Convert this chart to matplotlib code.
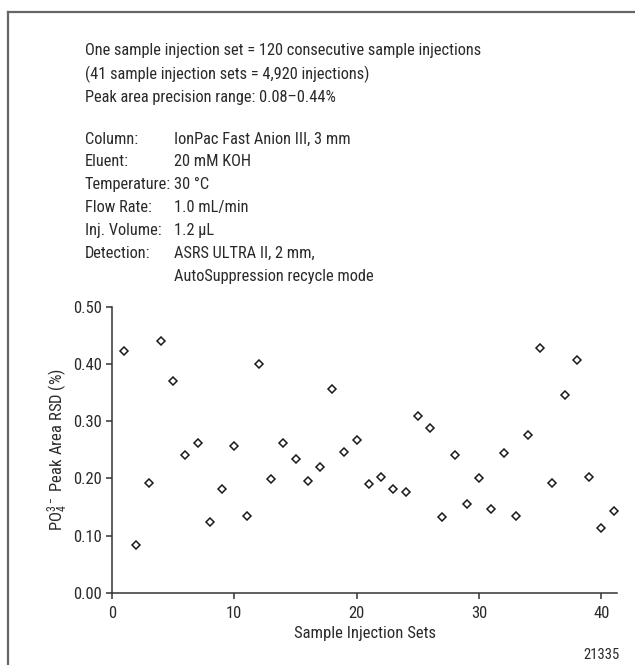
import matplotlib
matplotlib.use("Agg")
import matplotlib.pyplot as plt
from matplotlib.lines import Line2D

plt.rcParams['font.family'] = ['Roboto Condensed', 'Archivo Narrow', 'PT Sans Narrow',
                               'Liberation Sans', 'DejaVu Sans']
plt.rcParams['mathtext.default'] = 'regular'

sets = list(range(1, 42))
rsd = [0.423, 0.083, 0.192, 0.440, 0.371, 0.241, 0.262, 0.123, 0.182, 0.257,
       0.135, 0.401, 0.199, 0.262, 0.234, 0.195, 0.220, 0.356, 0.246, 0.267,
       0.190, 0.202, 0.182, 0.177, 0.310, 0.289, 0.132, 0.241, 0.155, 0.200,
       0.147, 0.244, 0.135, 0.276, 0.428, 0.192, 0.346, 0.408, 0.202, 0.113,
       0.143]
xticks = [0, 10, 20, 30, 40]
yticks = [0.0, 0.1, 0.2, 0.3, 0.4, 0.5]
ytick_labels = ["0.00", "0.10", "0.20", "0.30", "0.40", "0.50"]

header_lines = [
    "One sample injection set = 120 consecutive sample injections",
    "(41 sample injection sets = 4,920 injections)",
    "Peak area precision range: 0.08\u20130.44%",
]
cond_labels = ["Column:", "Eluent:", "Temperature:", "Flow Rate:", "Inj. Volume:", "Detection:", ""]
cond_values = ["IonPac Fast Anion III, 3 mm", "20 mM KOH", "30 \u00b0C", "1.0 mL/min",
               "1.2 \u03bcL", "ASRS ULTRA II, 2 mm,", "AutoSuppression recycle mode"]

W, H = 635, 665
fig = plt.figure(figsize=(W / 100, H / 100), dpi=100)
fs = 11.8
tc = "#2a2a2a"

# frame lines
fig.add_artist(Line2D([8 / W, 8 / W], [0, 1 - 12 / H], color="#666666", lw=1.6, transform=fig.transFigure))
fig.add_artist(Line2D([8 / W, 1], [1 - 12 / H, 1 - 12 / H], color="#666666", lw=1.6, transform=fig.transFigure))

# header text
for i, t in enumerate(header_lines):
    y = 50.7 + i * 23.2
    fig.text(85 / W, 1 - y / H, t, fontsize=fs, color=tc, va="center", ha="left")
for i, (lab, val) in enumerate(zip(cond_labels, cond_values)):
    y = 139 + i * 22.9
    if lab:
        fig.text(85 / W, 1 - y / H, lab, fontsize=fs, color=tc, va="center", ha="left")
    fig.text(174 / W, 1 - y / H, val, fontsize=fs, color=tc, va="center", ha="left")

ax = fig.add_axes([112 / W, 1 - 592.7 / H, (617.3 - 112) / W, (592.7 - 307) / H])
ax.plot(sets, rsd, linestyle="none", marker="D", markersize=4.3,
        markerfacecolor="white", markeredgecolor="#1a1a1a", markeredgewidth=1.1, clip_on=False)
ax.set_xlim(0, 41.3)
ax.set_ylim(0, 0.5)
ax.set_xticks(xticks)
ax.set_yticks(yticks)
ax.set_yticklabels(ytick_labels)
for s in ["top", "right"]:
    ax.spines[s].set_visible(False)
for s in ["left", "bottom"]:
    ax.spines[s].set_color("#333333")
    ax.spines[s].set_linewidth(1.1)
ax.tick_params(axis="both", direction="out", length=4.5, width=1.1, color="#333333",
               labelsize=12, labelcolor=tc)
ax.tick_params(axis="x", pad=5)
ax.tick_params(axis="y", pad=2.5)
ax.set_xlabel("Sample Injection Sets", fontsize=12, color=tc, labelpad=4)
ax.set_ylabel("PO$_4^{3\u2212}$ Peak Area RSD (%)", fontsize=12, color=tc, labelpad=2.5)

fig.text(620 / W, 1 - 655 / H, "21335", fontsize=10.5, color=tc, ha="right", va="center")

fig.savefig("out.png", dpi=100)
